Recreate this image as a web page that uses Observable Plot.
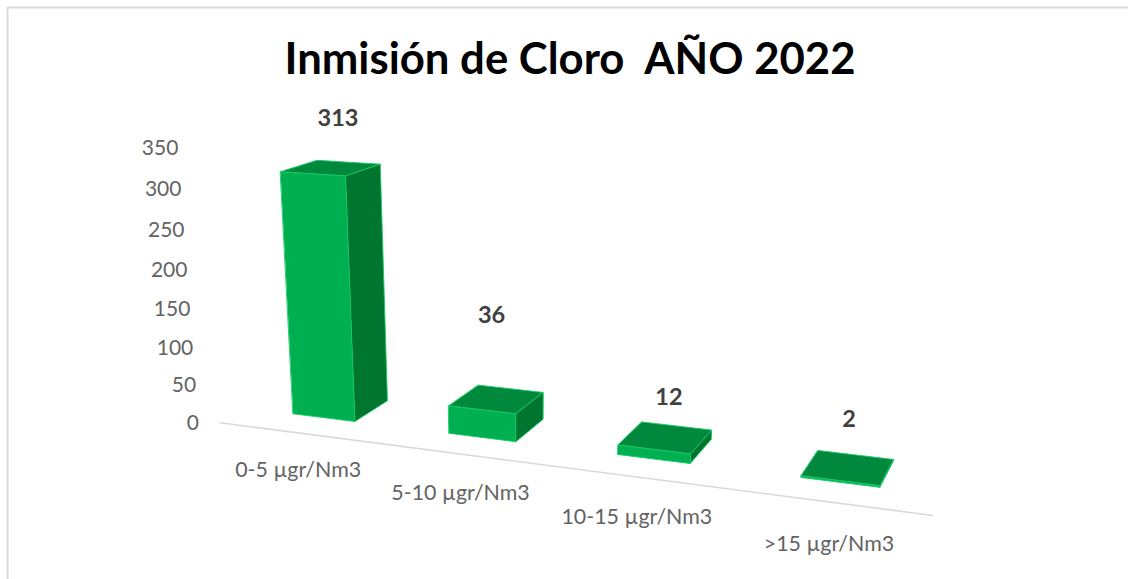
<!DOCTYPE html>
<html lang="es">
<head>
<meta charset="utf-8">
<title>Inmisión de Cloro AÑO 2022</title>
<script src="https://cdn.jsdelivr.net/npm/d3@7"></script>
<script src="https://cdn.jsdelivr.net/npm/@observablehq/plot@0.6"></script>
<style>
  html, body { margin: 0; padding: 0; background: #fff; }
  svg { display: block; }
</style>
</head>
<body>
<div id="chart"></div>
<script>
// ---- data ----
const chartTitle = "Inmisión de Cloro  AÑO 2022";
const categories = ["0-5 µgr/Nm3", "5-10 µgr/Nm3", "10-15 µgr/Nm3", ">15 µgr/Nm3"];
const values = [313, 36, 12, 2];
const valueTicks = [0, 50, 100, 150, 200, 250, 300, 350];

// ---- layout: a perspective camera mapping (t: category axis, v: value, d: depth) to the page ----
const W = 1128, H = 579;
const origin = [292.7, 413.3];
const axisT = [150, 18.8], axisV = [-0.0384, -0.732], axisD = [35.8, -21];
const persp = {t: 0.038, v: 0.00017, d: 0.04};
const barWidth = 0.405;
const floorD = -0.7, floorT = [-0.31, 3.71];
const tickT = -0.455, tickNudge = 3;
const catD = -1.97, catT0 = 0.5, catStep = 0.937;
// Excel's hand-placed data labels: offset from the centre of each bar's top face
const labelNudge = [[7, -49.5], [-5, -83.6], [3.5, -40], [1, -48]];

const project = (t, v, d) => {
  const w = 1 - persp.t * t - persp.v * v + persp.d * d;
  return {
    x: origin[0] + (axisT[0] * t + axisV[0] * v + axisD[0] * d) / w,
    y: origin[1] + (axisT[1] * t + axisV[1] * v + axisD[1] * d) / w
  };
};

const face = (name, corners) => (v, i) =>
  corners(i, i + barWidth, v).map(c => ({id: `${name}${i}`, ...project(...c)}));

const frontFaces = values.flatMap(face("front", (a, b, v) => [[a, 0, 0], [b, 0, 0], [b, v, 0], [a, v, 0]]));
const sideFaces = values.flatMap(face("side", (a, b, v) => [[b, 0, 0], [b, 0, 1], [b, v, 1], [b, v, 0]]));
const topFaces = values.flatMap(face("top", (a, b, v) => [[a, v, 0], [b, v, 0], [b, v, 1], [a, v, 1]]));

const floorLine = floorT.map(t => project(t, 0, floorD));
const tickLabels = valueTicks.map(v => ({label: String(v), ...project(tickT, v, floorD)}));
const categoryLabels = categories.map((label, i) => ({label, ...project(catT0 + catStep * i, 0, catD)}));
const valueLabels = values.map((v, i) => {
  const p = project(i + barWidth / 2, v, 0.5);
  return {label: String(v), x: p.x + labelNudge[i][0], y: p.y + labelNudge[i][1]};
});

const FONT = "Lato, 'Open Sans', sans-serif";
const polygon = (data, fill) => Plot.line(data, {
  x: "x", y: "y", z: "id", fill, curve: "linear-closed",
  stroke: "#17c765", strokeWidth: 0.9, strokeLinejoin: "round"
});

const chart = Plot.plot({
  width: W, height: H,
  margin: 0,
  style: {background: "#fff", fontFamily: FONT},
  x: {domain: [0, W], range: [0, W], axis: null},
  y: {domain: [0, H], range: [0, H], axis: null},
  marks: [
    // card border: top and left edges only
    Plot.ruleY([7], {stroke: "#d9d9d9", strokeWidth: 2, x1: 7, x2: W}),
    Plot.ruleX([7], {stroke: "#d9d9d9", strokeWidth: 2, y1: 7, y2: H}),
    Plot.line(floorLine, {x: "x", y: "y", stroke: "#d9d9d9", strokeWidth: 1.6}),
    polygon(topFaces, "#00893c"),
    polygon(sideFaces, "#00752f"),
    polygon(frontFaces, "#00b050"),
    Plot.text(tickLabels, {x: "x", y: "y", text: "label", dy: tickNudge, textAnchor: "end",
      fontFamily: FONT, fontSize: 21, fill: "#636363"}),
    Plot.text(categoryLabels, {x: "x", y: "y", text: "label",
      fontFamily: FONT, fontSize: 21.4, fill: "#636363"}),
    Plot.text(valueLabels, {x: "x", y: "y", text: "label",
      fontFamily: FONT, fontSize: 23.5, fontWeight: 700, fill: "#404040"}),
    Plot.text([chartTitle], {x: () => 569.5, y: () => 60, text: d => d,
      fontFamily: FONT, fontSize: 43.7, fontWeight: 700, fill: "#000"})
  ]
});
document.getElementById("chart").appendChild(chart);
</script>
</body>
</html>
